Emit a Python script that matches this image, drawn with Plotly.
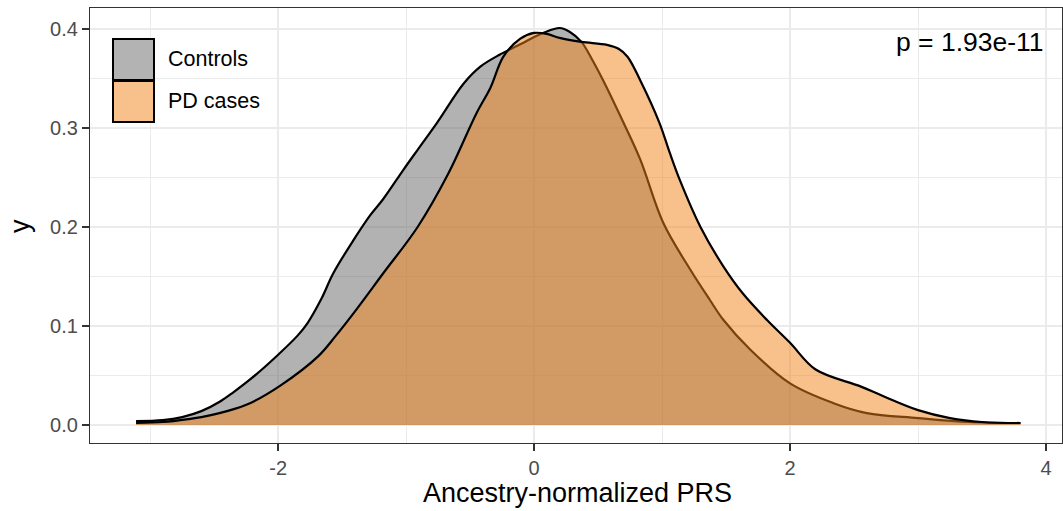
import plotly.graph_objects as go

# Controls density
controls_x = [-3.11, -2.9, -2.75, -2.6, -2.45, -2.35, -2.2, -2.0, -1.85, -1.77, -1.66, -1.57,
              -1.41, -1.28, -1.18, -1.02, -0.91, -0.76, -0.55, -0.42, -0.27, -0.1, 0.0, 0.07,
              0.2, 0.28, 0.37, 0.45, 0.54, 0.70, 0.83, 1.01, 1.22, 1.375, 1.48, 1.69, 2.0,
              2.34, 2.6, 3.0, 3.4, 3.8]
controls_y = [0.004, 0.005, 0.008, 0.014, 0.024, 0.033, 0.048, 0.071, 0.090, 0.103, 0.128, 0.153,
              0.187, 0.212, 0.228, 0.258, 0.278, 0.305, 0.345, 0.362, 0.374, 0.385, 0.392, 0.396,
              0.401, 0.397, 0.387, 0.370, 0.348, 0.305, 0.268, 0.204, 0.157, 0.126, 0.106, 0.076, 0.042,
              0.022, 0.012, 0.007, 0.003, 0.002]

# PD cases density
pd_x = [-3.11, -2.9, -2.7, -2.6, -2.4, -2.22, -1.98, -1.69, -1.55, -1.41, -1.18, -0.91,
        -0.67, -0.45, -0.34, -0.24, -0.11, 0.0, 0.1, 0.2, 0.37, 0.57, 0.66, 0.73, 0.83,
        0.98, 1.06, 1.14, 1.30, 1.48, 1.63, 1.82, 2.0, 2.2, 2.55, 2.73, 3.0, 3.25, 3.5, 3.8]
pd_y = [0.002, 0.003, 0.006, 0.008, 0.014, 0.022, 0.040, 0.069, 0.090, 0.113, 0.153, 0.200,
        0.254, 0.315, 0.341, 0.372, 0.390, 0.396, 0.395, 0.391, 0.387, 0.384, 0.380, 0.372, 0.348,
        0.305, 0.275, 0.247, 0.200, 0.160, 0.133, 0.106, 0.083, 0.056, 0.039, 0.029, 0.015, 0.007, 0.003, 0.002]

series_names = ["Controls", "PD cases"]
x_ticks = [-2, 0, 2, 4]
y_ticks = [0.0, 0.1, 0.2, 0.3, 0.4]
y_tick_text = ["0.0", "0.1", "0.2", "0.3", "0.4"]
x_title = "Ancestry-normalized PRS"
y_title = "y"
p_label = "p = 1.93e-11"

ctrl_fill = "rgba(102,102,102,0.5)"
pd_fill = "rgba(241,129,21,0.5)"
ctrl_key = "#B3B3B3"
pd_key = "#F8C08A"

fig = go.Figure()
fig.add_trace(go.Scatter(x=controls_x, y=controls_y, mode="lines", fill="tozeroy",
                         fillcolor=ctrl_fill, line=dict(color="black", width=2.2, shape="spline", smoothing=1.0),
                         name=series_names[0], showlegend=False, hoverinfo="skip"))
fig.add_trace(go.Scatter(x=pd_x, y=pd_y, mode="lines", fill="tozeroy",
                         fillcolor=pd_fill, line=dict(color="black", width=2.2, shape="spline", smoothing=1.0),
                         name=series_names[1], showlegend=False, hoverinfo="skip"))

W, H = 1063, 511
L, R, T, B = 90, 1, 8, 68
pw, ph = W - L - R, H - T - B

def px(xp):
    return (xp - L) / pw

def py(yp):
    return (H - B - yp) / ph

shapes = []
annotations = []
# manual legend like ggplot
keys = [(ctrl_key, 39, 80, series_names[0]), (pd_key, 81, 122, series_names[1])]
for col, y0, y1, name in keys:
    shapes.append(dict(type="rect", xref="paper", yref="paper", x0=px(113), x1=px(154),
                       y0=py(y1), y1=py(y0), fillcolor=col, line=dict(color="black", width=2)))
    annotations.append(dict(xref="paper", yref="paper", x=px(166), y=py((y0 + y1) / 2),
                            text=name, showarrow=False, xanchor="left", yanchor="middle",
                            font=dict(size=21.5, color="black")))

annotations.append(dict(xref="x", yref="y", x=4.0, y=0.387, text=p_label, showarrow=False,
                        xanchor="right", yanchor="middle", font=dict(size=26.5, color="black")))
annotations.append(dict(xref="paper", yref="paper", x=px(577), y=py(493), text=x_title,
                        showarrow=False, xanchor="center", yanchor="middle",
                        font=dict(size=27, color="black")))
annotations.append(dict(xref="paper", yref="paper", x=px(20), y=py(226), text=y_title,
                        showarrow=False, xanchor="center", yanchor="middle", textangle=-90,
                        font=dict(size=27, color="black")))

fig.update_layout(
    width=W, height=H,
    margin=dict(l=L, r=R, t=T, b=B, pad=0, autoexpand=False),
    plot_bgcolor="white", paper_bgcolor="white",
    font=dict(family="Liberation Sans, Arial, sans-serif", color="black"),
    shapes=shapes, annotations=annotations,
    xaxis=dict(range=[-3.47, 4.125], tickvals=x_ticks, ticktext=[str(v) for v in x_ticks],
               automargin=False,
               showgrid=True, gridcolor="#EBEBEB", gridwidth=1.5,
               minor=dict(dtick=1, tick0=-3, showgrid=True, gridcolor="#EBEBEB", gridwidth=1, ticks=""),
               zeroline=False, showline=True, mirror=True, linecolor="#333333", linewidth=1.2,
               ticks="outside", ticklen=7, tickwidth=1.5, tickcolor="#333333",
               tickfont=dict(size=20, color="#4D4D4D")),
    yaxis=dict(range=[-0.0182, 0.4212], tickvals=y_ticks, ticktext=y_tick_text,
               automargin=False,
               showgrid=True, gridcolor="#EBEBEB", gridwidth=1.5,
               minor=dict(dtick=0.05, tick0=0.05, showgrid=True, gridcolor="#EBEBEB", gridwidth=1, ticks=""),
               zeroline=False, showline=True, mirror=True, linecolor="#333333", linewidth=1.2,
               ticks="outside", ticklen=7, tickwidth=1.5, tickcolor="#333333",
               tickfont=dict(size=20, color="#4D4D4D")),
)

fig.write_html("out.html", config={"displayModeBar": False},
               post_script="document.body.style.margin='0';document.body.style.overflow='hidden';")
